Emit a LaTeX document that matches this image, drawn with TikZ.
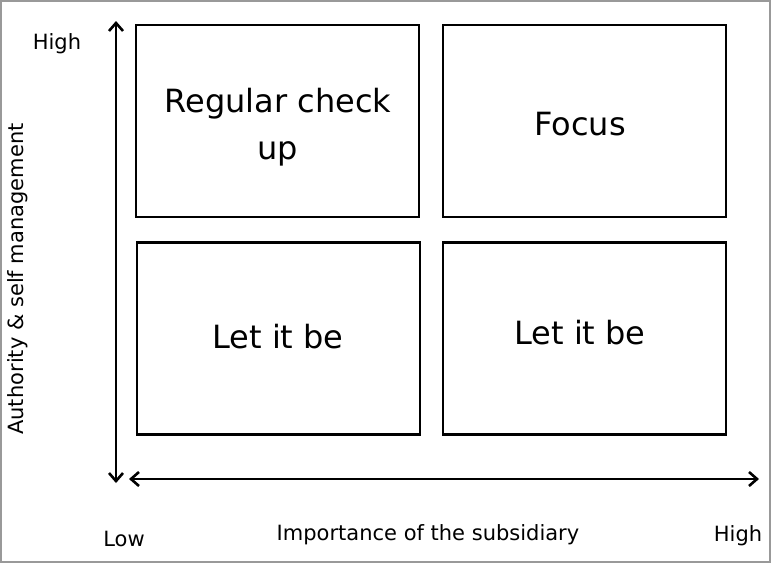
\documentclass[tikz,border=0pt]{standalone}
\usepackage{fontspec}
\setmainfont{DejaVu Sans}
\usetikzlibrary{arrows.meta,positioning}

\begin{document}
\begin{tikzpicture}[x=1pt, y=-1pt,
    quad/.style={draw, line width=2.8pt, minimum width=283pt, minimum height=192pt, inner sep=0pt},
    qtext/.style={align=center, font=\fontsize{32}{47}\selectfont, inner sep=0pt},
    axis/.style={{Straight Barb[length=8pt,width=14pt]}-{Straight Barb[length=8pt,width=14pt]}, line width=2.6pt},
    lbl/.style={font=\fontsize{21}{25}\selectfont, inner sep=0pt}
]
\useasboundingbox (0,0) rectangle (771,563);
\draw[gray!80, line width=2pt] (1,1) rectangle (770,562);

% quadrants
\node[quad] (tl) at (277.5,121) {};
\node[quad] (tr) at (584.5,121) {};
\node[quad] (bl) at (278.5,338.5) {};
\node[quad] (br) at (584.5,338.5) {};
\node[qtext] (tltext) at (278,127) {Regular check\\up};
\node[qtext] (trtext) at (580,124) {Focus};
\node[qtext] (bltext) at (278,337) {Let it be};
\node[qtext] (brtext) at (580,333) {Let it be};

% axes
\coordinate (ytop) at (116,21);
\coordinate (ybot) at (116,483);
\coordinate (xleft) at (129,479);
\coordinate (xright) at (759,479);
\draw[axis] (ybot) -- (ytop);
\draw[axis] (xleft) -- (xright);

% labels
\node[lbl] (yhigh) at (57,44) {High};
\node[lbl] (xlow) at (124,539) {Low};
\node[lbl] (xhigh) at (738,536) {High};
\node[lbl] (xname) at (428,535) {Importance of the subsidiary};
\node[lbl, rotate=90] (yname) at (18,279) {Authority \& self management};
\end{tikzpicture}
\end{document}
